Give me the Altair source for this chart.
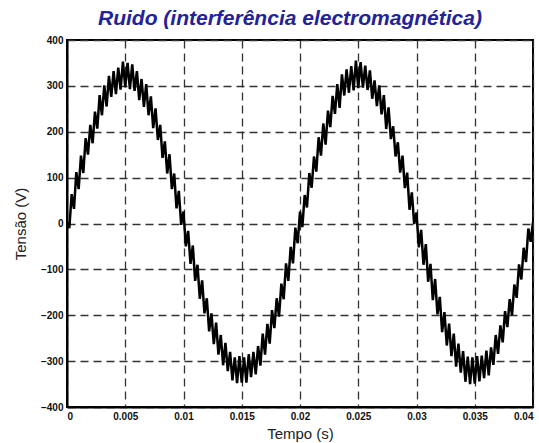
import altair as alt
import pandas as pd

t_step = 0.0002
voltage_cycle1 = [
    2, -10, 64, 32, 112, 75, 148, 110, 186, 150,
    215, 175, 244, 207, 280, 236, 301, 255, 322, 276,
    332, 282, 340, 292, 353, 297, 350, 293, 347, 289,
    332, 269, 315, 254, 304, 236, 277, 208, 251, 182,
    215, 143, 179, 109, 151, 75, 109, 33, 71, -3,
    26, -50, -16, -88, -48, -125, -90, -164, -124, -196,
    -163, -235, -196, -263, -216, -286, -243, -309, -260, -322,
    -280, -342, -292, -348, -289, -347, -292, -347, -285, -335,
    -280, -329, -267, -310, -240, -286, -219, -262, -189, -228,
    -163, -203, -131, -165, -87, -125, -51, -87, -9, -43,
    26,
]
voltage_cycle2 = [
    -8, 62, 35, 110, 78, 146, 113, 188, 148,
    218, 172, 246, 210, 278, 239, 304, 252, 325, 279,
    336, 285, 343, 290, 355, 295, 352, 296, 344, 291,
    334, 272, 312, 256, 301, 238, 280, 206, 253, 184,
    212, 146, 177, 111, 148, 77, 111, 30, 68, -1,
    24, -52, -14, -90, -45, -127, -88, -167, -121, -198,
    -160, -237, -193, -266, -218, -289, -240, -312, -262, -325,
    -278, -345, -290, -350, -292, -349, -289, -344, -288, -337,
    -277, -331, -270, -308, -243, -284, -222, -259, -191, -226,
    -165, -200, -133, -162, -89, -122, -53, -84, -11, -40,
    3,
]
voltage = voltage_cycle1 + voltage_cycle2
time = [i * t_step for i in range(len(voltage))]

x_ticks = [0, 0.005, 0.01, 0.015, 0.02, 0.025, 0.03, 0.035, 0.04]
y_ticks = [-400, -300, -200, -100, 0, 100, 200, 300, 400]

df = pd.DataFrame({"t": time, "v": voltage})

chart = (
    alt.Chart(df)
    .mark_line(color="black", strokeWidth=2.5, clip=True)
    .encode(
        x=alt.X(
            "t:Q",
            scale=alt.Scale(domain=[0, 0.04], nice=False, zero=False),
            axis=alt.Axis(values=x_ticks, format="~g", title="Tempo (s)"),
        ),
        y=alt.Y(
            "v:Q",
            scale=alt.Scale(domain=[-400, 400], nice=False),
            axis=alt.Axis(values=y_ticks, format="d", title="Tensão (V)"),
        ),
    )
    .properties(
        width=466,
        height=367,
        autosize=alt.AutoSizeParams(type="none"),
        padding={"left": 67, "top": 40, "right": 6, "bottom": 36},
        title=alt.TitleParams(
            "Ruido (interferência electromagnética)",
            font="Liberation Sans",
            fontSize=21,
            fontWeight="bold",
            fontStyle="italic",
            color="#22229a",
            anchor="middle",
            dx=-10,
            offset=6,
        ),
    )
    .configure_view(stroke="black", strokeWidth=2)
    .configure_axis(
        grid=True,
        gridColor="#333333",
        gridDash=[8, 5],
        gridWidth=1.3,
        gridOpacity=1,
        domainColor="black",
        domainWidth=2,
        ticks=False,
        labelFont="Liberation Sans",
        labelFontSize=10,
        labelFontWeight="bold",
        labelColor="#111111",
        labelPadding=4,
        titleFont="Liberation Sans",
        titleFontSize=15,
        titleFontWeight="normal",
        titleColor="#222222",
    )
    .configure_axisX(titlePadding=5)
    .configure_axisY(titlePadding=12)
)

chart.save("out.html", embed_options={"renderer": "svg", "actions": False})
